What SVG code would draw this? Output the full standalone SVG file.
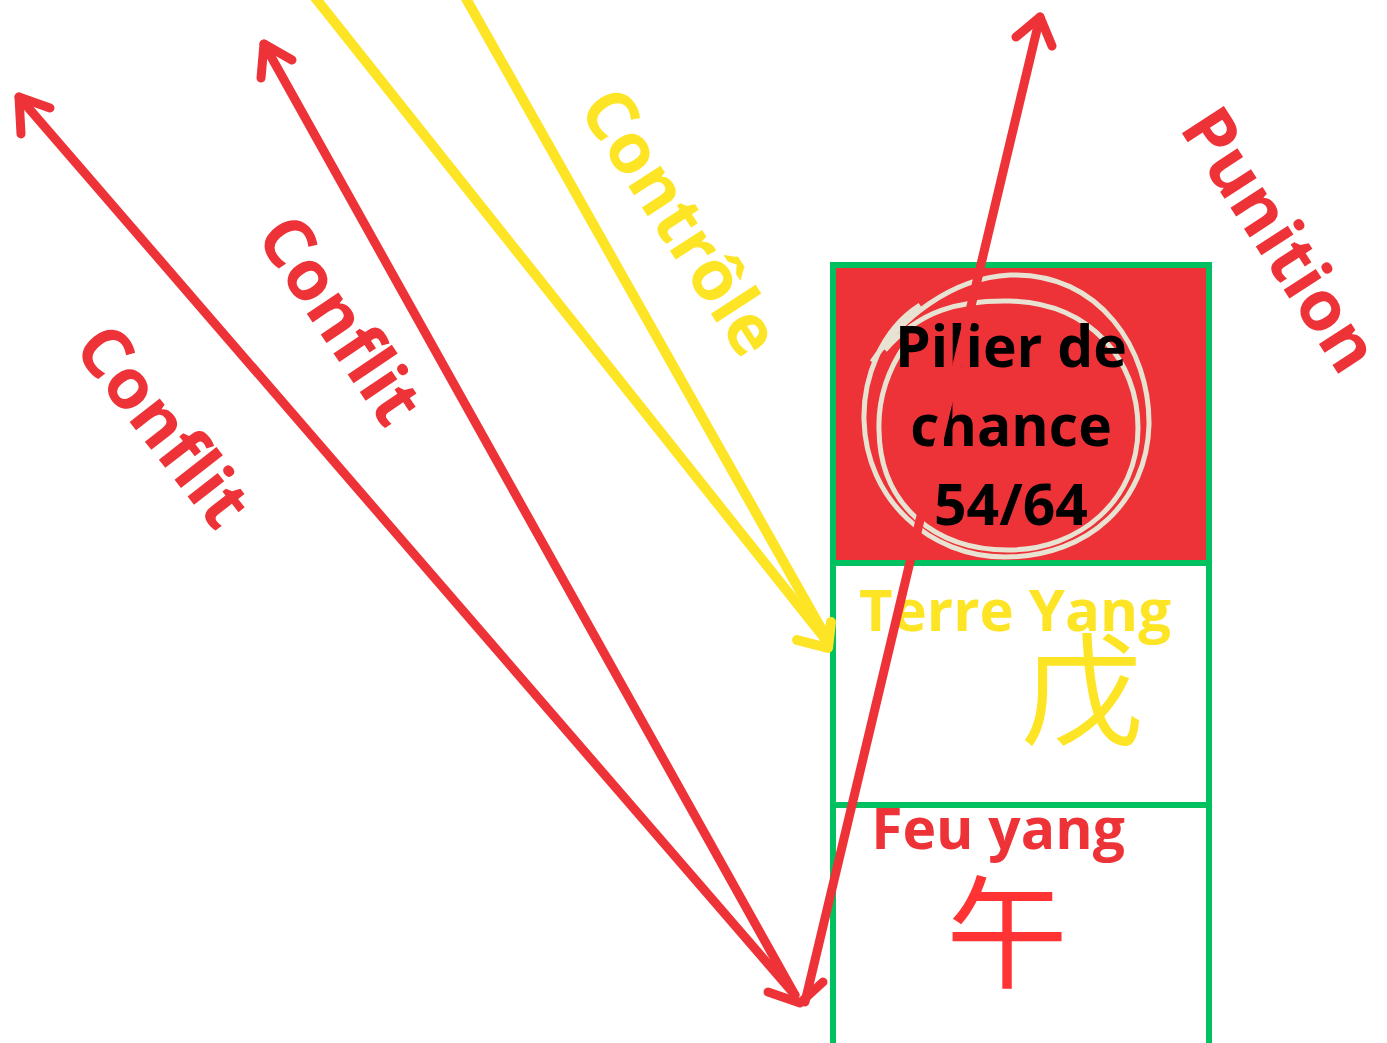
<svg xmlns="http://www.w3.org/2000/svg" width="1387" height="1043" viewBox="0 0 1387 1043">
<style>
.lbl{font-family:"Open Sans","Liberation Sans",sans-serif;font-weight:700;text-anchor:middle}
.red{fill:#EE3338}
.yel{fill:#FDE525}
.ln{fill:none;stroke-linecap:round;stroke-linejoin:round}
.r{stroke:#EE3338;stroke-width:9}
.y{stroke:#FDE525;stroke-width:10}
.box{stroke:#00C060;stroke-width:6}
.cjk{font-family:"Noto Sans CJK SC",sans-serif;text-anchor:middle}
</style>
<rect width="1387" height="1043" fill="#FFFFFF"/>
<g id="pillar-top">
<rect x="833" y="265" width="376" height="298" fill="#EE3338" class="box"/>
<path d="M872,362 C900,320 950,278 1010,275 C1100,272 1150,350 1149,425 C1147,500 1090,557 1005,557 C930,557 866,500 864,420 C863,380 880,330 920,305" fill="none" stroke="#E8E2D2" stroke-width="5"/>
<path d="M885,350 C920,310 960,300 1010,301 C1090,303 1138,360 1138,428 C1138,500 1080,550 1008,550 C935,550 880,505 879,430 C878,400 888,370 905,345" fill="none" stroke="#E8E2D2" stroke-width="5"/>
<text class="lbl" x="1011" y="367" font-size="57" fill="#000">Pilier de</text>
<text class="lbl" x="1011" y="446" font-size="57" fill="#000">chance</text>
<text class="lbl" x="1011" y="525" font-size="57" fill="#000">54/64</text>
</g>
<g id="pillar-mid">
<rect x="833" y="563" width="376" height="242" fill="none" class="box"/>
<text class="lbl yel" x="1015" y="631" font-size="58">Terre Yang</text>
<text class="cjk yel" x="1082" y="735" font-size="122">戊</text>
</g>
<g id="pillar-bot">
<rect x="833" y="805" width="376" height="250" fill="none" class="box"/>
<text class="lbl red" x="998" y="849" font-size="57">Feu yang</text>
<text class="cjk" x="1007" y="978" font-size="122" fill="#FF3333">午</text>
</g>
<g id="connectors">
<polyline class="ln y" points="313,-5 826,640"/>
<polyline class="ln y" points="464,-5 822,630"/>
<polyline class="ln y" points="797,640 828,648 831,622"/>
<polyline class="ln r" points="795,995 19,97"/>
<polyline class="ln r" points="50,108 19,97 21,134"/>
<polyline class="ln r" points="795,995 264,44"/>
<polyline class="ln r" points="292,60 264,44 261,78"/>
<polyline class="ln r" points="805,1002 1040,17"/>
<polyline class="ln r" points="1016,37 1040,17 1052,46"/>
<polyline class="ln r" points="768,992 800,1003 823,982" stroke-width="13"/>
</g>
<g id="labels">
<text class="lbl red" font-size="70" transform="translate(163,426) rotate(52)" y="24">Conflit</text>
<text class="lbl red" font-size="70" transform="translate(340,320) rotate(56)" y="24">Conflit</text>
<text class="lbl yel" font-size="70" transform="translate(680,222) rotate(57)" y="24">Contrôle</text>
<text class="lbl red" font-size="70" transform="translate(1280,240) rotate(57)" y="24">Punition</text>
</g>
</svg>
